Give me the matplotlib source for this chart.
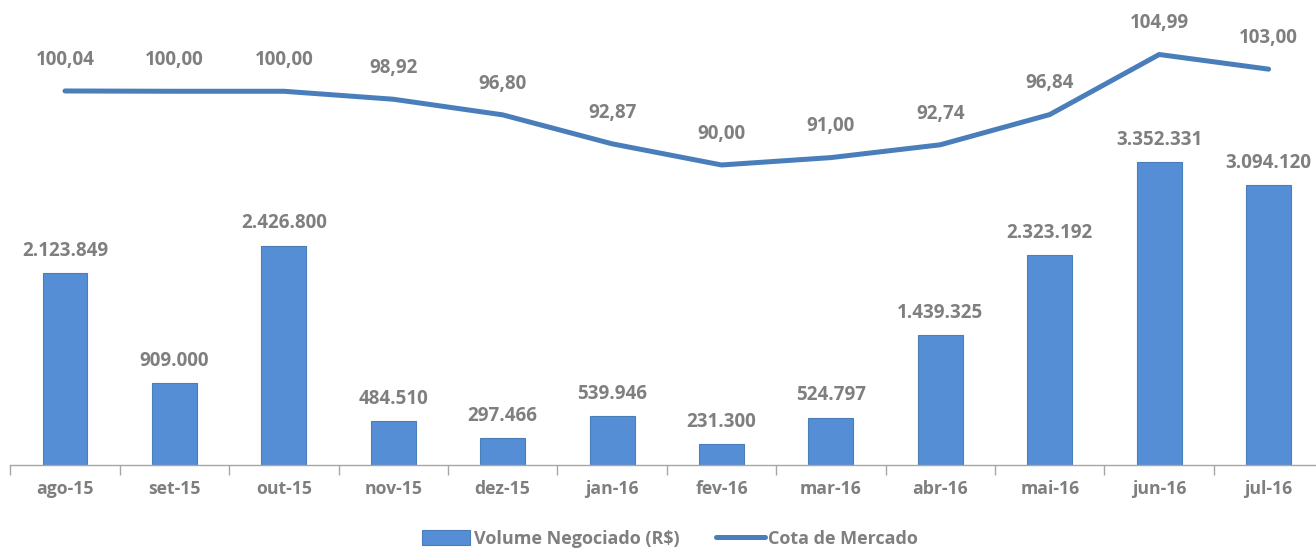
import matplotlib.pyplot as plt
import numpy as np

meses = ['ago-15', 'set-15', 'out-15', 'nov-15', 'dez-15', 'jan-16',
         'fev-16', 'mar-16', 'abr-16', 'mai-16', 'jun-16', 'jul-16']
volume = [2123849, 909000, 2426800, 484510, 297466, 539946,
          231300, 524797, 1439325, 2323192, 3352331, 3094120]
cota = [100.04, 100.00, 100.00, 98.92, 96.80, 92.87,
        90.00, 91.00, 92.74, 96.84, 104.99, 103.00]

cinza = '#7F7F7F'
azul_barra = '#558ED5'
azul_linha = '#4A7EBB'

plt.rcParams['font.family'] = ['Open Sans', 'DejaVu Sans']
plt.rcParams['font.weight'] = 'bold'

def fmt_milhar(v):
    return f'{v:,}'.replace(',', '.')

def fmt_dec(v):
    return f'{v:.2f}'.replace('.', ',')

fig = plt.figure(figsize=(13.16, 5.5), dpi=100)
ax = fig.add_axes([10.3/1316, 85/550, 1313/1316, 445/550])
x = np.arange(len(meses))

barras = ax.bar(x, volume, width=0.41, color=azul_barra, edgecolor='#4A7EBB',
                linewidth=0.8, label='Volume Negociado (R$)')
ax.set_ylim(0, 445*11062)
ax.set_xlim(-0.5, len(meses)-0.5)
for xi, v in zip(x, volume):
    ax.annotate(fmt_milhar(v), (xi, v), xytext=(0, 16), textcoords='offset points',
                ha='center', va='center', fontsize=13.5, fontweight='bold', color=cinza)

ax.set_xticks(x)
ax.set_xticklabels(meses, fontsize=12.7, fontweight='bold', color=cinza)
ax.tick_params(axis='x', which='major', length=0, pad=11)
ax.set_xticks(np.arange(-0.5, len(meses), 1), minor=True)
ax.tick_params(axis='x', which='minor', length=7, color='#A6A6A6', width=1)
ax.set_yticks([])
for s in ['top', 'right', 'left']:
    ax.spines[s].set_visible(False)
ax.spines['bottom'].set_color('#A6A6A6')
ax.spines['bottom'].set_linewidth(1)

ax2 = ax.twinx()
linha, = ax2.plot(x, cota, color=azul_linha, linewidth=3.6,
                  solid_capstyle='round', solid_joinstyle='round',
                  label='Cota de Mercado')
ax2.set_ylim(49.29, 109.67)
ax2.set_yticks([])
for s in ax2.spines.values():
    s.set_visible(False)
for xi, v in zip(x, cota):
    ax2.annotate(fmt_dec(v), (xi, v), xytext=(0, 22.5), textcoords='offset points',
                 ha='center', va='center', fontsize=13.5, fontweight='bold', color=cinza)

fig.legend(handles=[barras, linha], labels=['Volume Negociado (R$)', 'Cota de Mercado'],
           loc='center', bbox_to_anchor=(0.509, 11/550), ncol=2, frameon=False,
           fontsize=13, labelcolor=cinza, handlelength=2.7, handleheight=0.9,
           handletextpad=0.2, columnspacing=2.0, borderpad=0.2)

fig.savefig('out.png', dpi=100)
